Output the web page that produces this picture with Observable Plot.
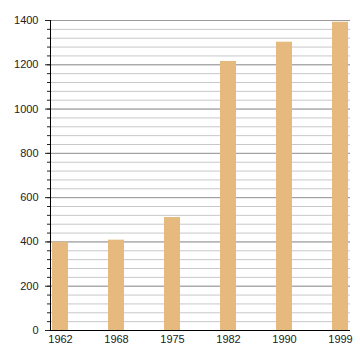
<!DOCTYPE html>
<html><head><meta charset="utf-8">
<script src="https://cdn.jsdelivr.net/npm/d3@7"></script>
<script src="https://cdn.jsdelivr.net/npm/@observablehq/plot@0.6"></script>
<style>body{margin:0;background:#fff;} svg{display:block;}</style>
</head><body><div id="chart"></div>
<script>
const years = ["1962","1968","1975","1982","1990","1999"];
const population = [398, 408, 510, 1215, 1302, 1392];
const majorTicks = [0, 200, 400, 600, 800, 1000, 1200, 1400];
const minorTicks = d3.range(0, 1401, 40);

const data = years.map((y, i) => ({year: y, value: population[i]}));

const chart = Plot.plot({
  width: 360, height: 360,
  marginLeft: 50, marginRight: 10, marginTop: 20, marginBottom: 30,
  style: {fontFamily: "Liberation Sans, Arial, sans-serif", fontSize: "11px", color: "#222", background: "#fff"},
  x: {domain: years, paddingInner: 0.72, paddingOuter: 0, label: null},
  y: {domain: [0, 1400], label: null},
  marks: [
    Plot.ruleY(minorTicks, {stroke: "#c8c8c8", strokeWidth: 1, strokeOpacity: 1}),
    Plot.ruleY(majorTicks, {stroke: "#9a9a9a", strokeWidth: 1, strokeOpacity: 1}),
    Plot.barY(data, {x: "year", y: "value", fill: "#e6b97e"}),
    Plot.axisY(minorTicks, {tickSize: 3, tickFormat: () => "", stroke: "#222", strokeOpacity: 1, label: null}),
    Plot.axisY(majorTicks, {tickSize: 5, tickPadding: 7, tickFormat: d => String(d), stroke: "#222", strokeOpacity: 1, fill: "#222", label: null, fontSize: 11}),
    Plot.axisX({tickSize: 0, tickPadding: 5, label: null, fill: "#222", fontSize: 11}),
    Plot.frame({anchor: "left", stroke: "#000"}),
    Plot.ruleY([0], {stroke: "#000", strokeWidth: 1.2})
  ]
});
document.getElementById("chart").append(chart);
</script></body></html>
